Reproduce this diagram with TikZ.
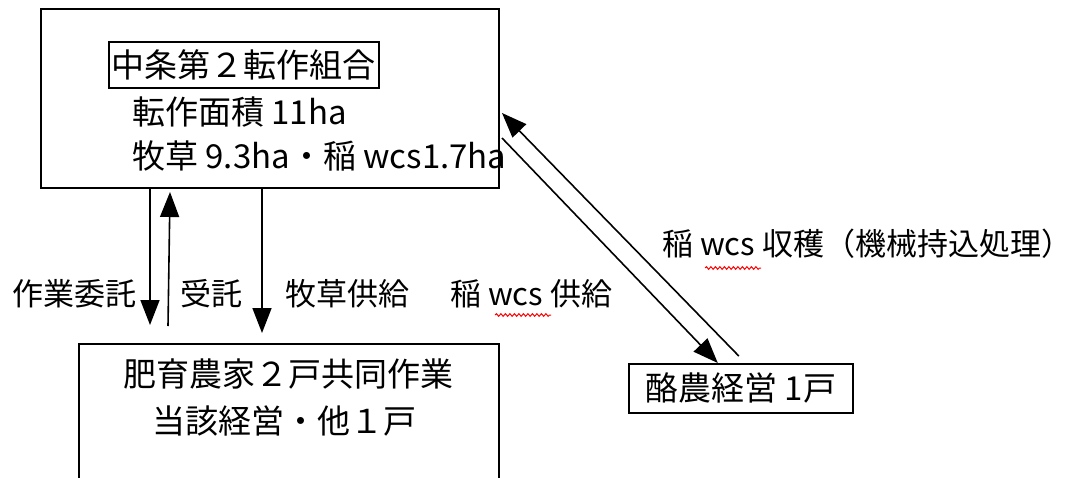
\documentclass[tikz,border=0pt]{standalone}
\usepackage{fontspec}
\newfontfamily\jp{Noto Sans CJK JP}
\usetikzlibrary{arrows.meta,positioning,decorations.pathmorphing}

\begin{document}
\begin{tikzpicture}[x=1pt,y=1pt,
  box/.style={draw,line width=1.6pt,inner sep=0pt,anchor=north west},
  arr/.style={line width=1.6pt,-{Triangle[length=25pt,width=19pt]}},
  big/.style={font=\jp\fontsize{33}{40}\selectfont,inner sep=0pt,anchor=west},
  lbl/.style={font=\jp\fontsize{31}{36}\selectfont,inner sep=0pt,anchor=west},
  wavy/.style={red,line width=1pt,decorate,decoration={snake,amplitude=1.3pt,segment length=4.5pt}}]
  \useasboundingbox (0,0) rectangle (1077,-477);
  % boxes
  \node[box,minimum width=458pt,minimum height=179pt] (kumiai) at (40,-8) {};
  \node[box,minimum width=420pt,minimum height=160pt] (hiiku) at (78,-343) {};
  \node[box,minimum width=224pt,minimum height=49pt,font=\jp\fontsize{33}{40}\selectfont] (rakuno) at (628,-363) {酪農経営 1戸};
  % texts in the boxes
  \node[big,draw,line width=1.6pt,inner xsep=3pt,minimum height=46pt] (name) at (108,-65) {中条第２転作組合};
  \node[big] (area) at (132,-112) {転作面積 11ha};
  \node[big] (crop) at (132,-156) {牧草 9.3ha・稲 wcs1.7ha};
  \node[big] (hl1) at (123,-374) {肥育農家２戸共同作業};
  \node[big] (hl2) at (152,-421) {当該経営・他１戸};
  % labels
  \node[lbl] (itaku) at (12,-294) {作業委託};
  \node[lbl] (jutaku) at (180,-294) {受託};
  \node[lbl] (bokuso) at (285,-294) {牧草供給};
  \node[lbl] (inesup) at (450,-294) {稲 wcs 供給};
  \node[lbl] (harv) at (662,-244) {稲 wcs 収穫（機械持込処理）};
  \draw[wavy] (495,-315) -- (551,-315);
  \draw[wavy] (705,-268) -- (761,-268);
  % arrows
  \coordinate (f1) at (150,-325);
  \coordinate (j0) at (168,-326);
  \coordinate (j1) at (170,-192);
  \coordinate (f2) at (262,-333);
  \coordinate (d0) at (502,-138);
  \coordinate (u1) at (502,-113);
  \draw[arr] (kumiai.south -| f1) -- (f1);
  \draw[arr] (j0) -- (j1);
  \draw[arr] (kumiai.south -| f2) -- (f2);
  \draw[arr] (d0) -- ([xshift=-23pt]rakuno.north);
  \draw[arr] ([xshift=-2pt,yshift=7pt]rakuno.north) -- (u1);
\end{tikzpicture}
\end{document}
